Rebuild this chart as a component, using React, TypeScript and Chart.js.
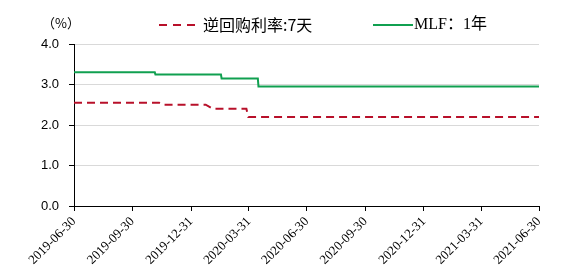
import React, { useEffect, useRef } from "react";
import { Chart, registerables } from "chart.js";

Chart.register(...registerables);

const startDate = "2019-06-30";
const endDate = "2021-06-30";
const tickDates = [
  "2019-06-30", "2019-09-30", "2019-12-31", "2020-03-31", "2020-06-30",
  "2020-09-30", "2020-12-31", "2021-03-31", "2021-06-30",
];
const yTicks = [0, 1, 2, 3, 4];
const unitLabel = "（%）";

const repoLabel = "逆回购利率:7天";
const repoDates = [
  "2019-06-30", "2019-11-11", "2019-11-18", "2020-01-23", "2020-02-03",
  "2020-03-27", "2020-03-30", "2021-06-30",
];
const repoValues = [2.55, 2.55, 2.5, 2.5, 2.4, 2.4, 2.2, 2.2];

const mlfLabel = "MLF：1年";
const mlfDates = [
  "2019-06-30", "2019-11-04", "2019-11-05", "2020-02-16", "2020-02-17",
  "2020-04-14", "2020-04-15", "2021-06-30",
];
const mlfValues = [3.3, 3.3, 3.25, 3.25, 3.15, 3.15, 2.95, 2.95];

const RED = "#B8102A";
const GREEN = "#10A050";

const dayOf = (s: string) =>
  (Date.parse(s + "T00:00:00Z") - Date.parse(startDate + "T00:00:00Z")) / 86400000;

const toPoints = (dates: string[], values: number[]) =>
  dates.map((d, i) => ({ x: dayOf(d), y: values[i] }));

const overlay = {
  id: "overlay",
  afterDraw(chart: any) {
    const ctx = chart.ctx as CanvasRenderingContext2D;
    ctx.save();
    ctx.fillStyle = "#000";
    ctx.font = "13px 'Noto Sans CJK SC'";
    ctx.textAlign = "center";
    ctx.textBaseline = "middle";
    ctx.fillText(unitLabel, 61, 23);

    const ly = 25;
    ctx.strokeStyle = RED;
    ctx.lineWidth = 2;
    ctx.setLineDash([8, 6]);
    ctx.beginPath();
    ctx.moveTo(159, ly);
    ctx.lineTo(195, ly);
    ctx.stroke();
    ctx.setLineDash([]);
    ctx.textAlign = "left";
    ctx.font = "16px 'Noto Sans CJK SC'";
    ctx.fillText(repoLabel, 203, ly);

    ctx.strokeStyle = GREEN;
    ctx.beginPath();
    ctx.moveTo(373, ly);
    ctx.lineTo(413, ly);
    ctx.stroke();
    ctx.font = "16px 'Liberation Serif', 'Noto Sans CJK SC'";
    ctx.fillText(mlfLabel, 414, ly);
    ctx.restore();
  },
};

export default function App() {
  const ref = useRef<HTMLCanvasElement>(null);
  useEffect(() => {
    if (!ref.current) return;
    const chart = new Chart(ref.current, {
      type: "line",
      data: {
        datasets: [
          {
            label: repoLabel,
            data: toPoints(repoDates, repoValues),
            borderColor: RED,
            backgroundColor: RED,
            borderWidth: 2,
            borderDash: [8, 5],
            pointRadius: 0,
            tension: 0,
          },
          {
            label: mlfLabel,
            data: toPoints(mlfDates, mlfValues),
            borderColor: GREEN,
            backgroundColor: GREEN,
            borderWidth: 2,
            pointRadius: 0,
            tension: 0,
          },
        ],
      },
      options: {
        animation: false,
        responsive: false,
        maintainAspectRatio: false,
        layout: { padding: { top: 44, right: 46, left: 0, bottom: 0 } },
        plugins: { legend: { display: false }, tooltip: { enabled: false } },
        scales: {
          x: {
            type: "linear",
            min: 0,
            max: dayOf(endDate),
            afterBuildTicks: (s: any) => {
              s.ticks = tickDates.map((d) => ({ value: dayOf(d) }));
            },
            afterFit: (s: any) => {
              s.height = 74;
            },
            ticks: {
              autoSkip: false,
              maxRotation: 45,
              minRotation: 45,
              padding: 3,
              color: "#000",
              font: { family: "'Liberation Serif'", size: 13 },
              callback: (_v: any, i: number) => tickDates[i],
            },
            grid: { drawOnChartArea: false, drawTicks: true, tickLength: 5, tickColor: "#000" },
            border: { color: "#000", width: 1 },
          },
          y: {
            min: 0,
            max: 4,
            afterBuildTicks: (s: any) => {
              s.ticks = yTicks.map((v) => ({ value: v }));
            },
            afterFit: (s: any) => {
              s.width = 74;
            },
            ticks: {
              padding: 10,
              color: "#000",
              font: { family: "'Liberation Sans'", size: 13 },
              callback: (v: any) => Number(v).toFixed(1),
            },
            grid: { color: "#d9d9d9", tickColor: "#000", tickLength: 5 },
            border: { color: "#000", width: 1 },
          },
        },
      },
      plugins: [overlay],
    } as any);
    return () => chart.destroy();
  }, []);
  return (
    <div style={{ position: "absolute", left: 0, top: 0, width: 585, height: 280, background: "#fff" }}>
      <canvas ref={ref} width={585} height={280} style={{ display: "block" }} />
    </div>
  );
}
